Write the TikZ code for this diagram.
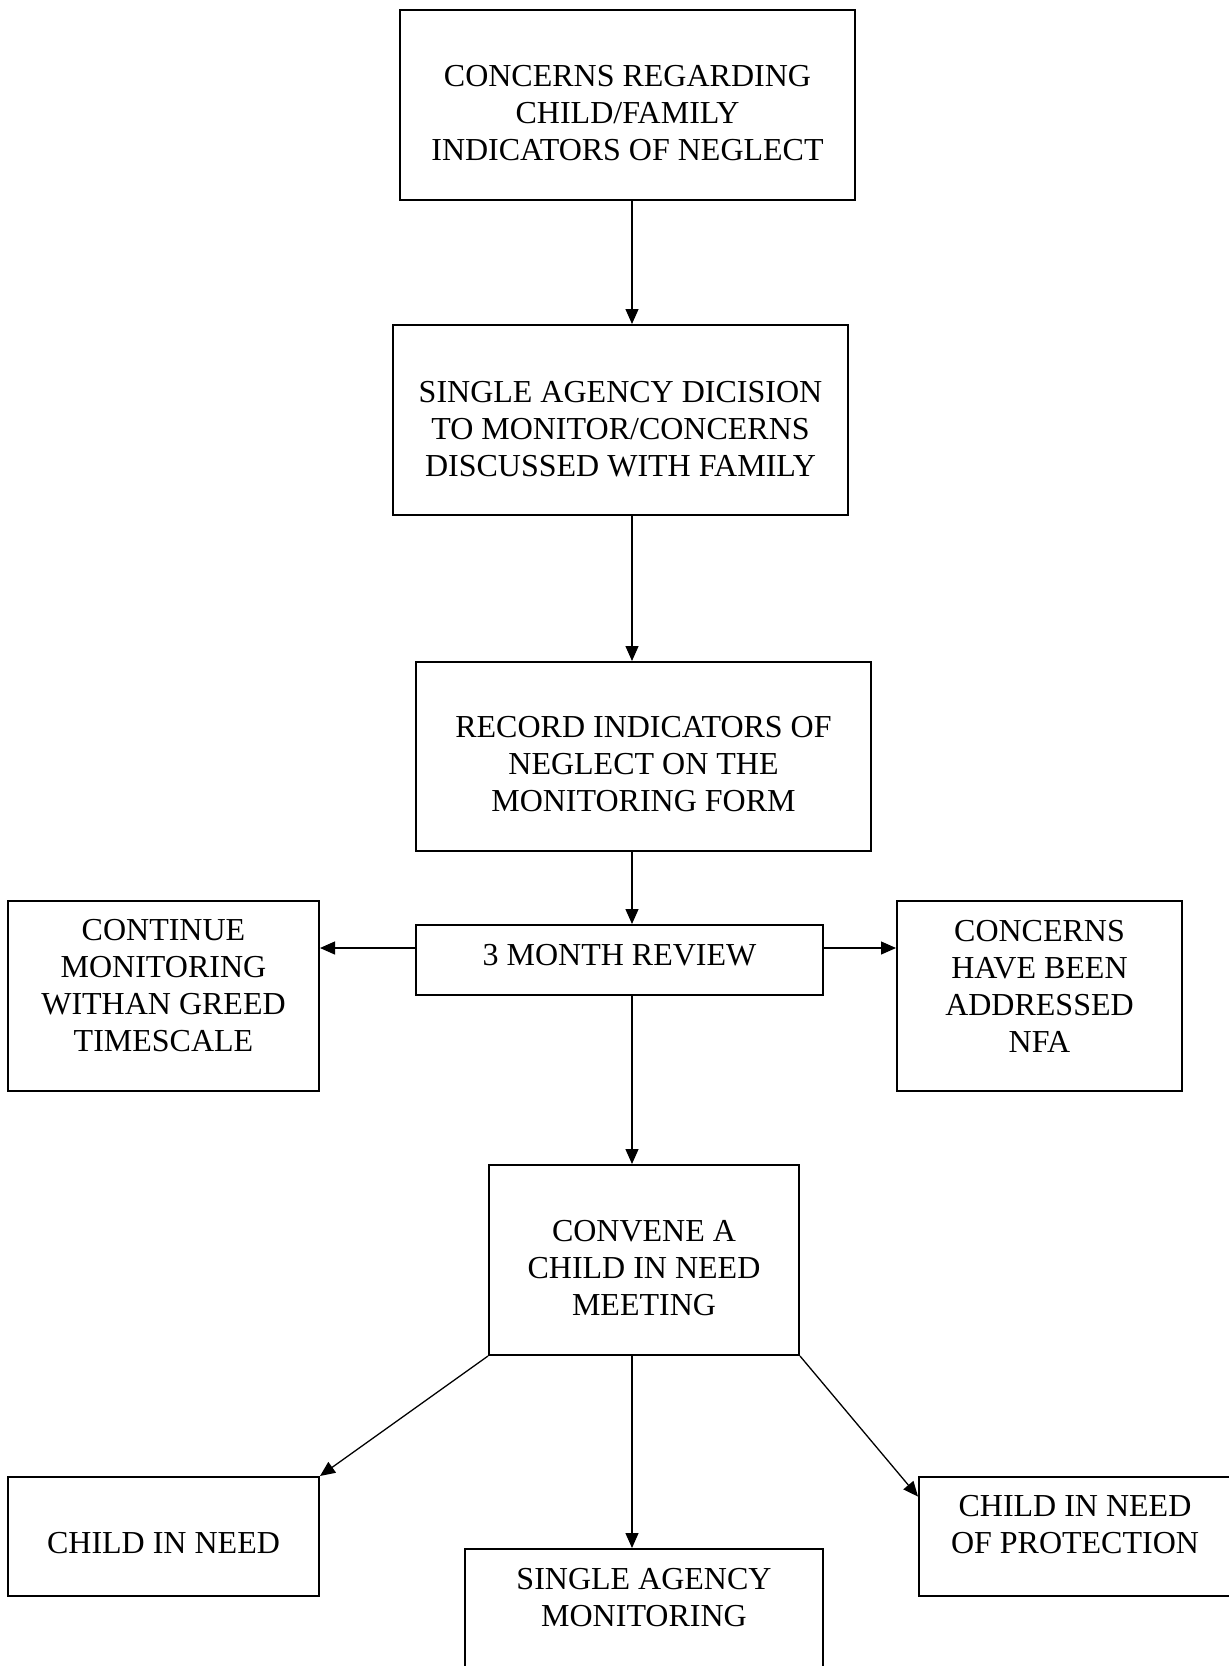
\documentclass[tikz,border=0pt]{standalone}
\usepackage{fontspec}
\setmainfont{Liberation Serif}
\usetikzlibrary{positioning, arrows.meta, calc}
\tikzset{
  rect1/.style = {
    shape = rectangle,
    draw = black,
    line width = 2pt,
    inner sep = 0pt,
  }
}
\tikzset{
  label1/.style = {
    align = center,
    inner sep = 0pt,
    font = \fontsize{32}{37}\selectfont,
  }
}
\tikzset{
  arrow1/.style = {
    draw = black, line width = 1.3pt, -{Triangle[length = 15pt, width = 13pt]},
  }
}

\begin{document}
\begin{tikzpicture}[x=1pt, y=-1pt]
        \useasboundingbox (0,0) rectangle (1229,1666);
        \clip (0,0) rectangle (1229,1666);
        \coordinate (spine) at (632,0);
        \coordinate (arm) at (0,948);
        \node[rect1, minimum width = 455pt, minimum height = 190pt](1) at (627.5,105){};
        \node[rect1, minimum width = 455pt, minimum height = 190pt](2) at (620.5,420){};
        \node[rect1, minimum width = 455pt, minimum height = 189pt](3) at (643.5,756.5){};
        \node[rect1, minimum width = 407pt, minimum height = 70pt](4) at (619.5,960){};
        \node[rect1, minimum width = 311pt, minimum height = 190pt](5) at (163.5,996){};
        \node[rect1, minimum width = 285pt, minimum height = 190pt](6) at (1039.5,996){};
        \node[rect1, minimum width = 310pt, minimum height = 190pt](7) at (644,1260){};
        \node[rect1, minimum width = 311pt, minimum height = 119pt](8) at (163.5,1536.5){};
        \node[rect1, minimum width = 358pt, minimum height = 190pt](9) at (644,1644){};
        \node[rect1, minimum width = 312pt, minimum height = 119pt](10) at (1075,1536.5){};
        \node[label1](t1) at (627.5,113.5){CONCERNS REGARDING\\CHILD/FAMILY\\INDICATORS OF NEGLECT};
        \node[label1](t2) at (620.5,429){SINGLE AGENCY DICISION\\TO MONITOR/CONCERNS\\DISCUSSED WITH FAMILY};
        \node[label1](t3) at (643.5,764.5){RECORD INDICATORS OF\\NEGLECT ON THE\\MONITORING FORM};
        \node[label1](t4) at (619.5,955.5){3 MONTH REVIEW};
        \node[label1](t5) at (163.5,986){CONTINUE\\MONITORING\\WITHAN GREED\\TIMESCALE};
        \node[label1](t6) at (1039.5,986){CONCERNS\\HAVE BEEN\\ADDRESSED\\NFA};
        \node[label1](t7) at (644,1268.5){CONVENE A\\CHILD IN NEED\\MEETING};
        \node[label1](t8) at (163.5,1543.5){CHILD IN NEED};
        \node[label1](t9) at (644,1597.5){SINGLE AGENCY\\MONITORING};
        \node[label1](t10) at (1075,1525){CHILD IN NEED\\OF PROTECTION};
        \draw[arrow1](1.south -| spine) -- (2.north -| spine);
        \draw[arrow1](2.south -| spine) -- (3.north -| spine);
        \draw[arrow1](3.south -| spine) -- (4.north -| spine);
        \draw[arrow1](4.west |- arm) -- (5.east |- arm);
        \draw[arrow1](4.east |- arm) -- (6.west |- arm);
        \draw[arrow1](4.south -| spine) -- (7.north -| spine);
        \draw[arrow1](7.south west) -- (8.north east);
        \draw[arrow1](7.south -| spine) -- (9.north -| spine);
        \draw[arrow1](7.south east) -- ($(10.north west)!0.17!(10.south west)$);
    \end{tikzpicture}
\end{document}
